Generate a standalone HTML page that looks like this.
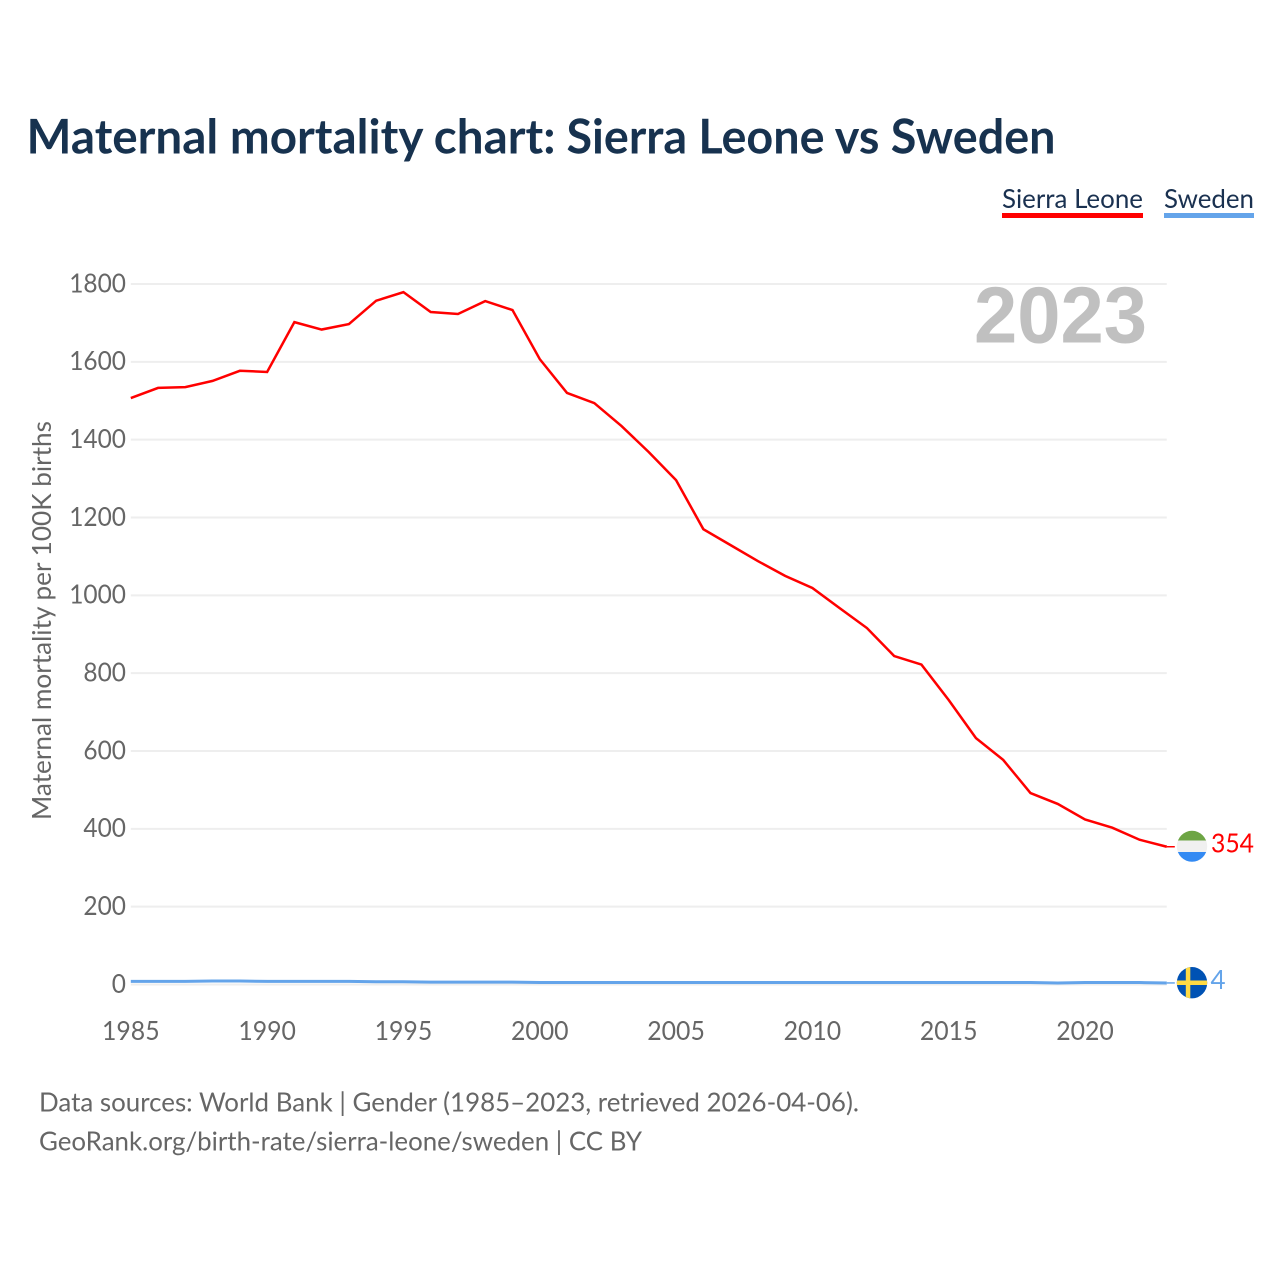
<!DOCTYPE html>
<html lang="en">
<head>
<meta charset="utf-8">
<title>Maternal mortality chart: Sierra Leone vs Sweden</title>
<style>
html,body{margin:0;padding:0;background:#fff;}
svg{display:block;}
text{font-family:"Lato","Carlito","Liberation Sans",sans-serif;}
</style>
</head>
<body>
<svg id="chart" width="1280" height="1280" viewBox="0 0 1280 1280" xmlns="http://www.w3.org/2000/svg">
  <rect x="0" y="0" width="1280" height="1280" fill="#ffffff"/>
  <text y="153.5" font-size="48" font-weight="700" fill="#17324f"><tspan x="26.5" textLength="529" lengthAdjust="spacingAndGlyphs">Maternal mortality chart:</tspan> <tspan x="566.5" textLength="489" lengthAdjust="spacingAndGlyphs">Sierra Leone vs Sweden</tspan></text>

  <g>
    <text x="1002" y="208" font-size="26.5" fill="#1a3150" textLength="141" lengthAdjust="spacingAndGlyphs">Sierra Leone</text>
    <rect x="1002" y="213" width="141" height="5" fill="#ff0000"/>
  </g>
  <g>
    <text x="1164" y="208" font-size="26.5" fill="#1a3150" textLength="90" lengthAdjust="spacingAndGlyphs">Sweden</text>
    <rect x="1164" y="213" width="90" height="5" fill="#64a4ea"/>
  </g>

  <g id="grid"></g>
  <text x="974" y="342.5" font-size="80" font-weight="700" fill="#c0c0c0" textLength="173" lengthAdjust="spacingAndGlyphs" style="font-family:'Liberation Sans',sans-serif">2023</text>
  <g id="y-ticks"></g>
  <g id="x-ticks"></g>
  <text transform="translate(51,820) rotate(-90)" x="0" y="0" font-size="26" fill="#666666" textLength="399" lengthAdjust="spacingAndGlyphs">Maternal mortality per 100K births</text>
  <g id="series"></g>

  <g>
    <clipPath id="clip-sl"><ellipse cx="1192" cy="846.3" rx="15.2" ry="15.5"/></clipPath>
    <g clip-path="url(#clip-sl)">
      <rect x="1176" y="830" width="32" height="10.5" fill="#6da544"/>
      <rect x="1176" y="840.5" width="32" height="11.5" fill="#f0f0f0"/>
      <rect x="1176" y="852" width="32" height="11" fill="#338af3"/>
    </g>
  </g>
  <g>
    <clipPath id="clip-se"><ellipse cx="1192" cy="982.7" rx="15.2" ry="15.7"/></clipPath>
    <g clip-path="url(#clip-se)">
      <rect x="1176" y="966" width="32" height="34" fill="#0052b4"/>
      <rect x="1185.8" y="966" width="4.5" height="34" fill="#ffda44"/>
      <rect x="1176" y="980.5" width="32" height="4.5" fill="#ffda44"/>
    </g>
  </g>
  <text id="label-sl" x="1211" y="852.5" font-size="26" fill="#ff0000" textLength="43" lengthAdjust="spacingAndGlyphs"></text>
  <text id="label-se" x="1210.5" y="989" font-size="26" fill="#64a4ea"></text>

  <text x="39" y="1111.5" font-size="26" fill="#666666" textLength="820" lengthAdjust="spacingAndGlyphs">Data sources: World Bank | Gender (1985–2023, retrieved 2026-04-06).</text>
  <text x="39" y="1150.5" font-size="26" fill="#666666" textLength="603" lengthAdjust="spacingAndGlyphs">GeoRank.org/birth-rate/sierra-leone/sweden | CC BY</text>
</svg>
<script>
const years = [1985,1986,1987,1988,1989,1990,1991,1992,1993,1994,1995,1996,1997,1998,1999,2000,2001,2002,2003,2004,2005,2006,2007,2008,2009,2010,2011,2012,2013,2014,2015,2016,2017,2018,2019,2020,2021,2022,2023];
const sierraLeone = [1507,1533,1535,1551,1577,1574,1702,1683,1697,1757,1779,1728,1723,1756,1733,1607,1520,1494,1435,1368,1296,1170,1129,1088,1050,1019,967,916,844,822,731,633,577,492,464,424,403,372,354];
const sweden = [8,8,8,9,9,8,8,8,8,7,7,6,6,6,6,5,5,5,5,5,5,5,5,5,5,5,5,5,5,5,5,5,5,5,4,5,5,5,4];
const yTickValues = [0,200,400,600,800,1000,1200,1400,1600,1800];
const xTickValues = [1985,1990,1995,2000,2005,2010,2015,2020];

const NS = 'http://www.w3.org/2000/svg';
function xScale(year){ return 130.8 + (year - 1985) * (1166.8 - 130.8) / (2023 - 1985); }
function yScale(v){ return 984.5 - v * (984.5 - 284) / 1800; }

const grid = document.getElementById('grid');
const yTicks = document.getElementById('y-ticks');
const xTicks = document.getElementById('x-ticks');
const seriesGroup = document.getElementById('series');

yTickValues.forEach(function(v){
  const line = document.createElementNS(NS, 'line');
  
  
  line.setAttribute('x1', xScale(1985));
  line.setAttribute('x2', xScale(2023));
  line.setAttribute('y1', yScale(v));
  line.setAttribute('y2', yScale(v));
  line.setAttribute('stroke', '#eeeeee');
  line.setAttribute('stroke-width', '2');
  grid.appendChild(line);

  const t = document.createElementNS(NS, 'text');
  
  
  t.setAttribute('x', 126);
  t.setAttribute('y', yScale(v) + 8.3);
  t.setAttribute('text-anchor', 'end');
  t.setAttribute('font-size', '26');
  t.setAttribute('fill', '#666666');
  t.setAttribute('textLength', String(v).length * 14.2);
  t.setAttribute('lengthAdjust', 'spacingAndGlyphs');
  t.textContent = v;
  yTicks.appendChild(t);
});

xTickValues.forEach(function(y){
  const t = document.createElementNS(NS, 'text');
  
  
  t.setAttribute('x', xScale(y));
  t.setAttribute('y', 1040);
  t.setAttribute('text-anchor', 'middle');
  t.setAttribute('font-size', '26');
  t.setAttribute('fill', '#666666');
  t.setAttribute('textLength', String(y).length * 14.4);
  t.setAttribute('lengthAdjust', 'spacingAndGlyphs');
  t.textContent = y;
  xTicks.appendChild(t);
});

function buildPoints(values){
  return values.map(function(v, i){ return xScale(years[i]).toFixed(2) + ',' + yScale(v).toFixed(2); }).join(' ');
}

function addLeader(values, color, name){
  const leader = document.createElementNS(NS, 'line');
  
  
  leader.setAttribute('x1', xScale(2023));
  leader.setAttribute('x2', xScale(2023) + 8);
  leader.setAttribute('y1', yScale(values[values.length - 1]));
  leader.setAttribute('y2', yScale(values[values.length - 1]));
  leader.setAttribute('stroke', color);
  leader.setAttribute('stroke-width', '1.5');
  seriesGroup.appendChild(leader);
}

const lineSweden = document.createElementNS(NS, 'polyline');


lineSweden.setAttribute('points', buildPoints(sweden));
lineSweden.setAttribute('fill', 'none');
lineSweden.setAttribute('stroke', '#64a4ea');
lineSweden.setAttribute('stroke-width', '3');
seriesGroup.appendChild(lineSweden);
addLeader(sweden, '#64a4ea', 'leader-sweden');

const lineSierra = document.createElementNS(NS, 'polyline');


lineSierra.setAttribute('points', buildPoints(sierraLeone));
lineSierra.setAttribute('fill', 'none');
lineSierra.setAttribute('stroke', '#ff0000');
lineSierra.setAttribute('stroke-width', '2.5');
seriesGroup.appendChild(lineSierra);
addLeader(sierraLeone, '#ff0000', 'leader-sierra-leone');

document.getElementById('label-sl').textContent = sierraLeone[sierraLeone.length - 1];
document.getElementById('label-se').textContent = sweden[sweden.length - 1];
</script>
</body>
</html>
